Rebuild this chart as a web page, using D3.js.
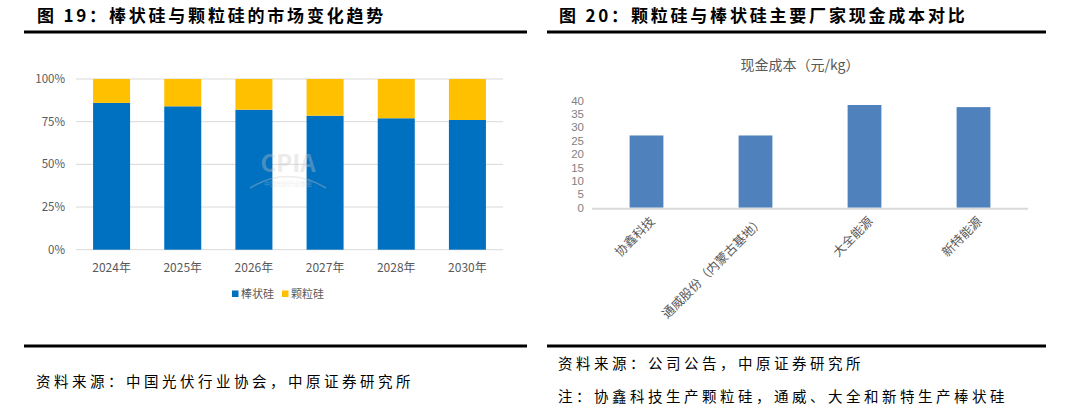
<!DOCTYPE html>
<html>
<head>
<meta charset="utf-8">
<script src="https://cdn.jsdelivr.net/npm/d3@7"></script>
<style>
  body { margin: 0; background: #fff; }
  svg { display: block; }
  text { font-family: "Noto Sans CJK SC", "Noto Sans", sans-serif; }
</style>
</head>
<body>
<svg id="chart" width="1070" height="414"></svg>
<script>
// left chart: market share of rod vs granular silicon
var years = ["2024年", "2025年", "2026年", "2027年", "2028年", "2030年"];
var rodShare = [86, 84, 82, 78.5, 77, 76];
var granularShare = [14, 16, 18, 21.5, 23, 24];
var shareTicks = [0, 25, 50, 75, 100];
var seriesNames = ["棒状硅", "颗粒硅"];

// right chart: cash cost by maker
var makers = ["协鑫科技", "通威股份（内蒙古基地）", "大全能源", "新特能源"];
var cashCost = [27, 27, 38.4, 37.6];
var costTicks = [0, 5, 10, 15, 20, 25, 30, 35, 40];

var svg = d3.select("#chart");

/* ---------- headers and footers ---------- */
function header(x, title) {
  svg.append("text").attr("x", x).attr("y", 22)
    .attr("font-size", 17).attr("font-weight", 700).attr("letter-spacing", 2.8)
    .attr("fill", "#000").text(title);
}
header(37, "图 19：棒状硅与颗粒硅的市场变化趋势");
header(559, "图 20：颗粒硅与棒状硅主要厂家现金成本对比");

[[24, 527, 32], [547, 1046, 32], [24, 527, 346], [547, 1046, 346]].forEach(function (l) {
  svg.append("line").attr("x1", l[0]).attr("x2", l[1]).attr("y1", l[2]).attr("y2", l[2])
    .attr("stroke", "#000").attr("stroke-width", 3);
});

function note(x, y, t) {
  svg.append("text").attr("x", x).attr("y", y).attr("font-size", 14.5)
    .attr("letter-spacing", 3.5).attr("fill", "#000").text(t);
}
note(36, 387, "资料来源：中国光伏行业协会，中原证券研究所");
note(558, 369, "资料来源：公司公告，中原证券研究所");
note(558, 402, "注：协鑫科技生产颗粒硅，通威、大全和新特生产棒状硅");

/* ---------- left chart ---------- */
var x1 = d3.scaleBand().domain(years).range([76, 503]).paddingInner(0.48).paddingOuter(0.24);
var y1 = d3.scaleLinear().domain([0, 100]).range([249.7, 79]);

var g1 = svg.append("g");
g1.selectAll(".grid").data(shareTicks).enter().append("line")
  .attr("x1", 76).attr("x2", 503)
  .attr("y1", d => y1(d)).attr("y2", d => y1(d))
  .attr("stroke", "#d9d9d9").attr("stroke-width", 1);

g1.selectAll(".ylab").data(shareTicks).enter().append("text")
  .attr("x", 65).attr("y", d => y1(d)).attr("dy", "0.35em")
  .attr("text-anchor", "end").attr("font-size", 11.5).attr("fill", "#595959")
  .text(d => d + "%");

var stack = years.map((yr, i) => ({ yr: yr, rod: rodShare[i], gran: granularShare[i] }));
g1.selectAll(".rod").data(stack).enter().append("rect")
  .attr("x", d => x1(d.yr)).attr("width", x1.bandwidth())
  .attr("y", d => y1(d.rod)).attr("height", d => y1(0) - y1(d.rod))
  .attr("fill", "#0070c0");
g1.selectAll(".gran").data(stack).enter().append("rect")
  .attr("x", d => x1(d.yr)).attr("width", x1.bandwidth())
  .attr("y", d => y1(d.rod + d.gran)).attr("height", d => y1(d.rod) - y1(d.rod + d.gran))
  .attr("fill", "#ffc000");

g1.selectAll(".xlab").data(years).enter().append("text")
  .attr("x", d => x1(d) + x1.bandwidth() / 2).attr("y", 272)
  .attr("text-anchor", "middle").attr("font-size", 12).attr("fill", "#595959")
  .text(d => d);

// watermark
var wm = g1.append("g").attr("opacity", 0.35);
wm.append("text").attr("x", 288).attr("y", 172).attr("text-anchor", "middle")
  .attr("font-size", 24).attr("font-weight", 700).attr("fill", "#c8c8c8").text("CPIA");
wm.append("path").attr("d", "M250,188 Q288,165 326,188").attr("fill", "none")
  .attr("stroke", "#c8c8c8").attr("stroke-width", 1.5);
wm.append("text").attr("x", 288).attr("y", 186).attr("text-anchor", "middle")
  .attr("font-size", 6).attr("fill", "#c8c8c8").text("中国光伏行业协会");

// legend
var colors = ["#0070c0", "#ffc000"];
var legX = [232, 282];
seriesNames.forEach(function (n, i) {
  g1.append("rect").attr("x", legX[i]).attr("y", 290.5).attr("width", 6.5).attr("height", 6.5)
    .attr("fill", colors[i]);
  g1.append("text").attr("x", legX[i] + 9).attr("y", 294).attr("dy", "0.35em")
    .attr("font-size", 11).attr("fill", "#595959").text(n);
});

/* ---------- right chart ---------- */
var x2 = d3.scaleBand().domain(makers).range([592, 1028]).paddingInner(0.69).paddingOuter(0.345);
var y2 = d3.scaleLinear().domain([0, 40]).range([207.7, 100.7]);
var g2 = svg.append("g");

g2.append("text").attr("x", 800).attr("y", 65).attr("dy", "0.35em")
  .attr("text-anchor", "middle").attr("font-size", 14).attr("fill", "#595959")
  .text("现金成本（元/kg）");

g2.selectAll(".bar").data(makers).enter().append("rect")
  .attr("x", d => x2(d)).attr("width", x2.bandwidth())
  .attr("y", (d, i) => y2(cashCost[i])).attr("height", (d, i) => y2(0) - y2(cashCost[i]))
  .attr("fill", "#4f81bd");

g2.append("line").attr("x1", 592).attr("x2", 1028).attr("y1", 208.7).attr("y2", 208.7)
  .attr("stroke", "#d9d9d9").attr("stroke-width", 2);

g2.selectAll(".ylab").data(costTicks).enter().append("text")
  .attr("x", 584).attr("y", d => y2(d)).attr("dy", "0.35em")
  .attr("text-anchor", "end").attr("font-size", 11.5)
  .style("font-family", "'Liberation Sans', Arial, sans-serif").attr("fill", "#7f7f7f")
  .text(d => d);

g2.selectAll(".xlab").data(makers).enter().append("text")
  .attr("transform", d => "translate(" + (x2(d) + x2.bandwidth() / 2 + 6) + ",219) rotate(-45)")
  .attr("text-anchor", "end").attr("dy", "0.35em")
  .attr("font-size", 12.5).attr("fill", "#595959")
  .text(d => d);
</script>
</body>
</html>
